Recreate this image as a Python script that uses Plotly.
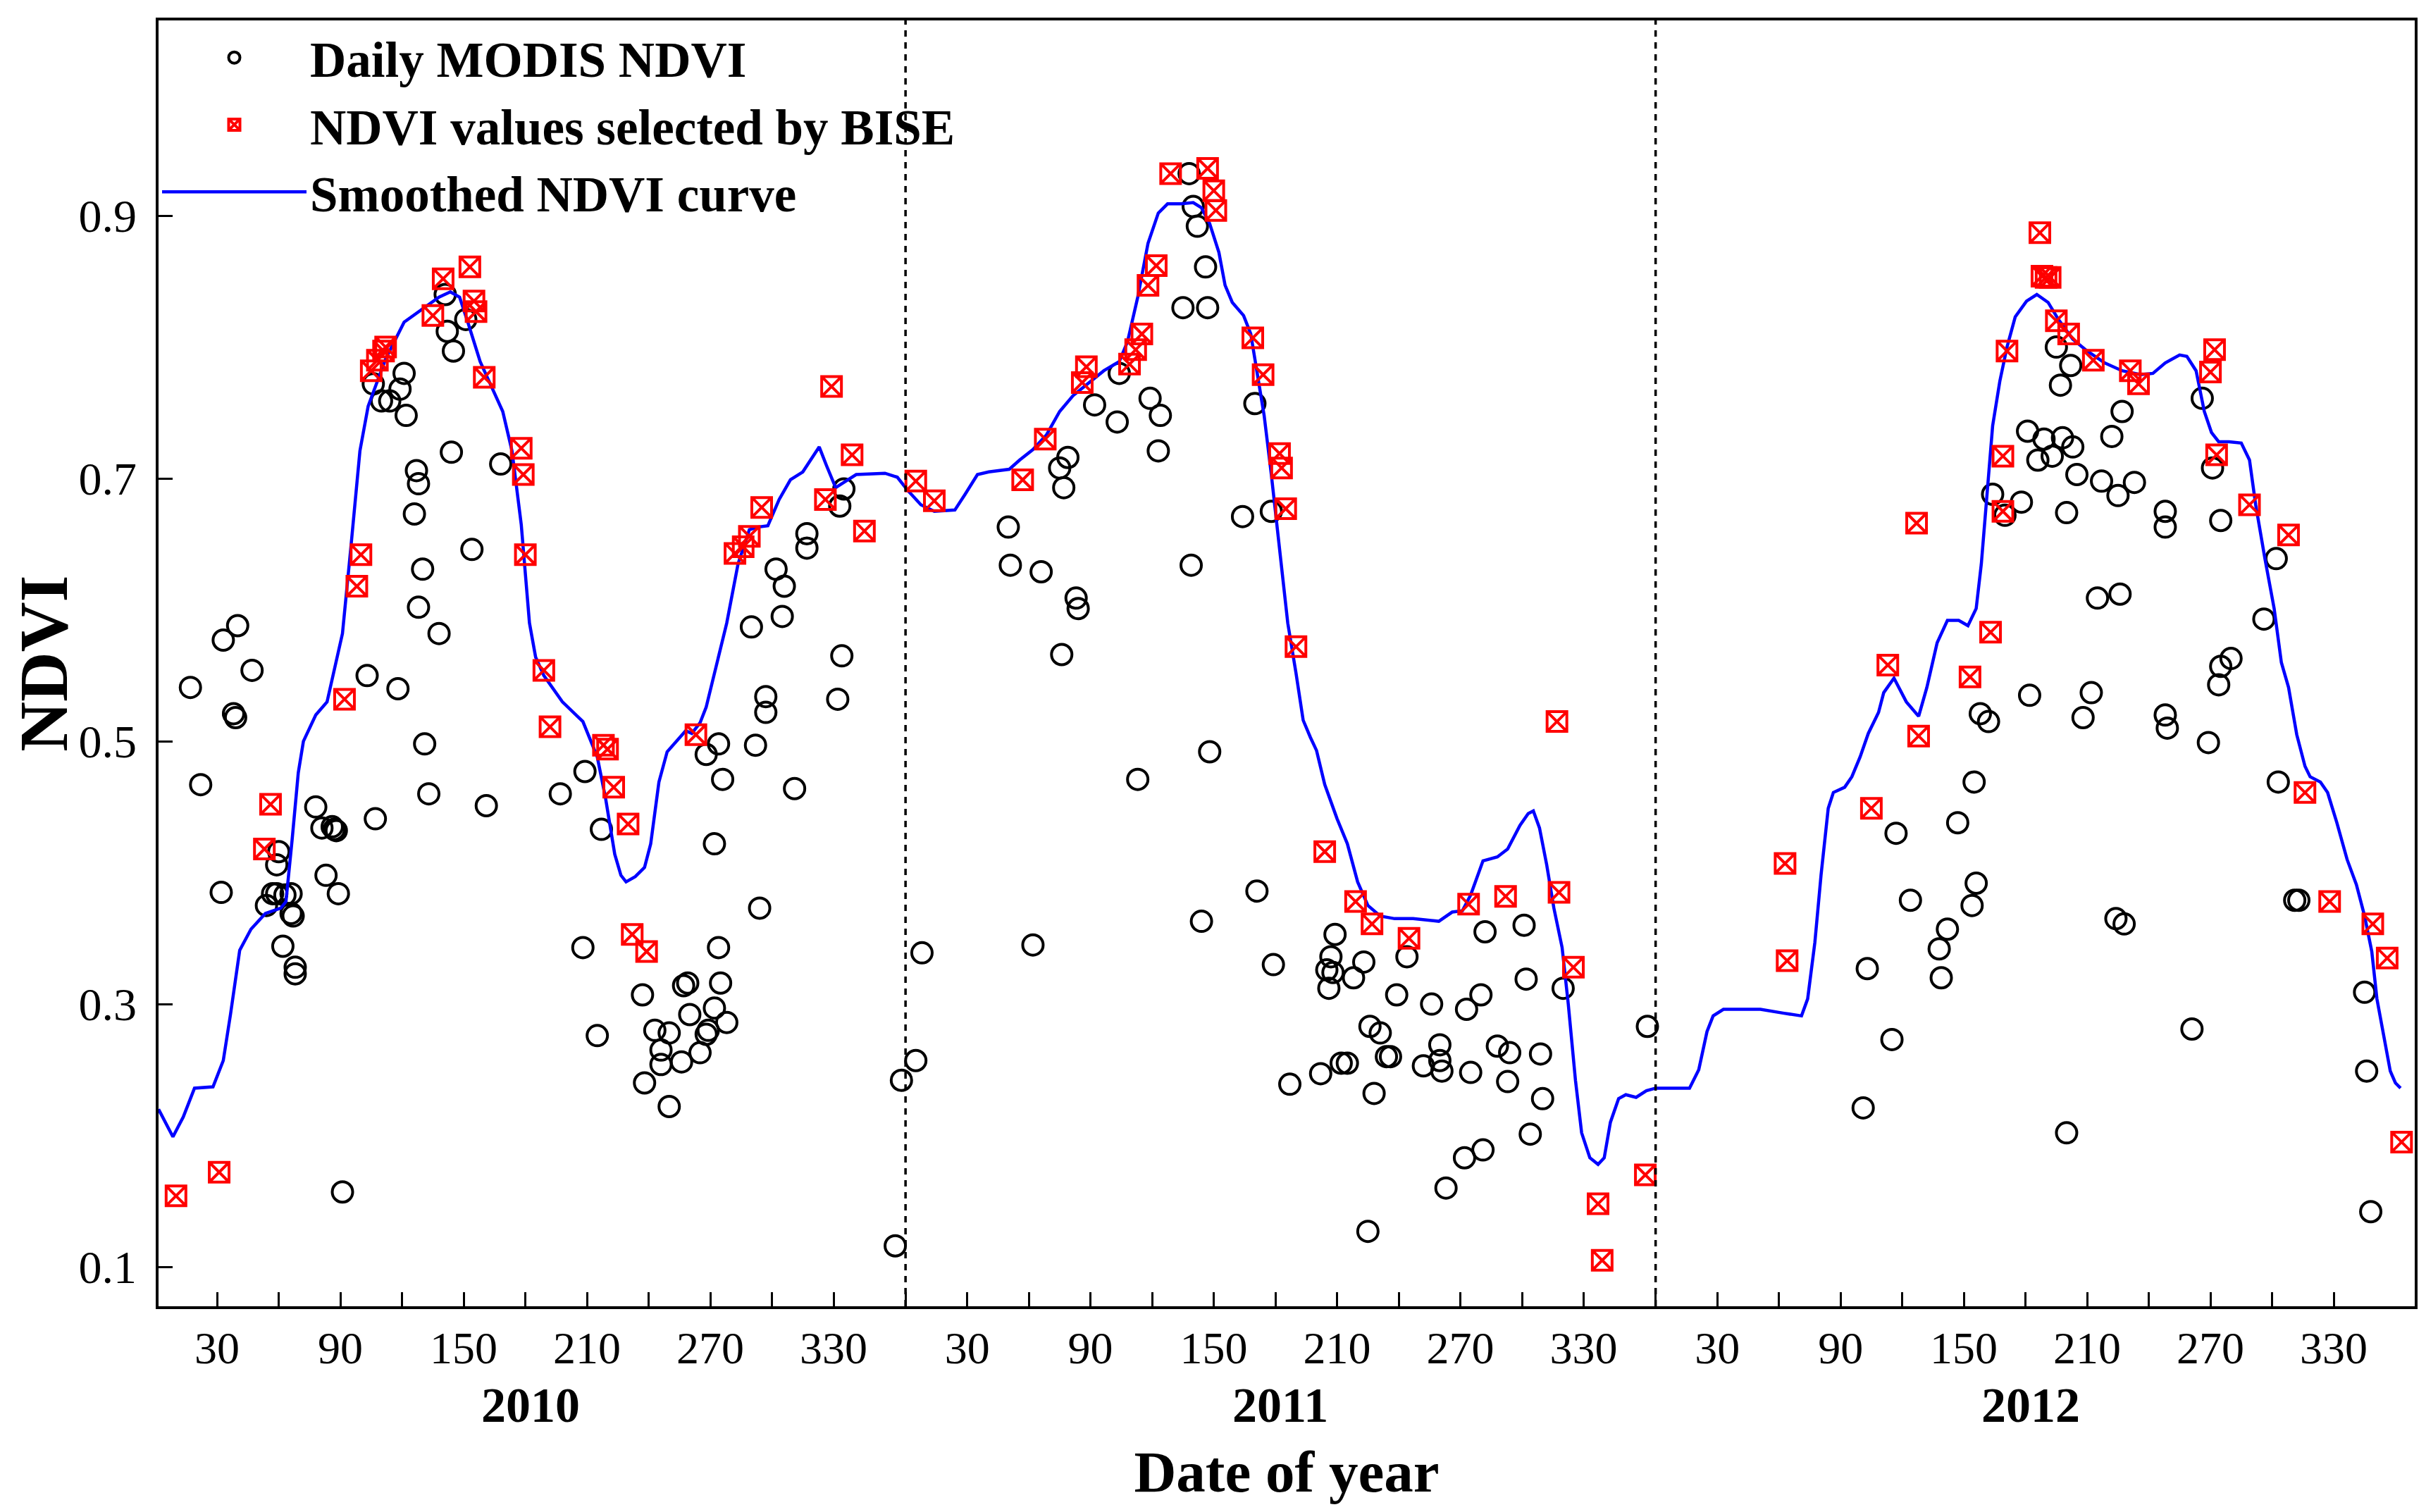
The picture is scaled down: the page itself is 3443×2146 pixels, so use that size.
import plotly.graph_objects as go

# days counted from 1 Jan 2010 (2011 starts at 365, 2012 at 730)
daily_day = [17, 33, 40, 47, 38, 39, 22, 32, 54, 57, 59, 63, 66, 60, 59, 62, 66, 67, 68, 68,
             78, 81, 83, 86, 87, 88, 89, 91, 107, 131, 133, 161, 103, 118,
             106, 110, 114, 119, 121, 122, 127, 128, 126, 130, 128, 138, 144, 145, 142, 141,
             151, 154, 168, 197, 209, 217, 208, 215, 237, 238, 243, 250, 246, 246, 250, 256,
             257, 259, 260, 265, 268, 269, 272, 278, 275, 274, 272, 276, 268, 274, 292, 294,
             297, 297, 290, 302, 306, 305, 317, 317, 334, 332, 333, 335, 311, 360, 363, 370, 373,
             503, 505, 507, 511, 500, 512, 535, 469, 457, 468, 484, 489, 488, 444, 440, 442,
             415, 416, 431, 448, 449, 441, 504, 529, 543, 513, 478,
             427, 509, 536, 544, 552, 567, 574, 572, 570, 573, 571, 583, 588, 577, 580, 591,
             596, 599, 601, 593, 590, 604, 609,
             647, 666, 667, 645, 638, 621, 685, 625, 625, 626, 617, 640, 653, 659, 674, 658,
             675, 669, 646, 637, 628, 726,
             847, 833, 845, 831, 885, 888, 892, 912, 942, 938, 978, 979, 999, 1004, 1005, 1010,
             1026, 1032, 945, 956, 894, 900, 908, 930, 911, 919, 928, 933, 916, 923, 925, 932,
             927, 935, 947, 955, 963, 957, 952, 978, 978, 996, 1001, 1005,
             877, 854, 886, 884, 872, 868, 869, 1033, 930, 954, 958, 991, 1041, 1043, 1075,
             1076, 1078]
daily_ndvi = [0.541, 0.577, 0.588, 0.554, 0.521, 0.518, 0.467, 0.385, 0.375, 0.384, 0.384, 0.383,
              0.384, 0.416, 0.406, 0.344, 0.369, 0.367, 0.328, 0.323,
              0.450, 0.434, 0.398, 0.435, 0.433, 0.432, 0.384, 0.157, 0.441, 0.498, 0.460, 0.451,
              0.550, 0.540,
              0.772, 0.759, 0.759, 0.768, 0.780, 0.748, 0.706, 0.696, 0.673, 0.631, 0.602, 0.582,
              0.720, 0.797, 0.812, 0.840,
              0.821, 0.646, 0.711, 0.460, 0.477, 0.433, 0.343, 0.276, 0.307, 0.240, 0.280, 0.278,
              0.265, 0.254, 0.222, 0.256,
              0.314, 0.316, 0.292, 0.263, 0.277, 0.280, 0.297, 0.286, 0.316, 0.343, 0.422, 0.471,
              0.490, 0.498, 0.497, 0.373,
              0.534, 0.522, 0.587, 0.631, 0.618, 0.595, 0.658, 0.647, 0.565, 0.532, 0.679, 0.692,
              0.464, 0.116, 0.242, 0.257, 0.339,
              0.932, 0.907, 0.892, 0.861, 0.830, 0.830, 0.757, 0.780, 0.756, 0.743, 0.761, 0.748,
              0.721, 0.716, 0.708, 0.693,
              0.663, 0.634, 0.629, 0.609, 0.601, 0.566, 0.634, 0.671, 0.675, 0.492, 0.471,
              0.345, 0.363, 0.386, 0.330, 0.239, 0.247, 0.353, 0.336, 0.326, 0.324, 0.312, 0.320,
              0.332, 0.255, 0.255, 0.283,
              0.278, 0.260, 0.260, 0.232, 0.127, 0.307, 0.336,
              0.355, 0.360, 0.319, 0.307, 0.296, 0.300, 0.312, 0.269, 0.257, 0.249, 0.253, 0.248,
              0.268, 0.263, 0.262, 0.241,
              0.228, 0.201, 0.189, 0.183, 0.160, 0.283,
              0.430, 0.327, 0.273, 0.221, 0.469, 0.521, 0.515, 0.535, 0.537, 0.518, 0.520, 0.510,
              0.499, 0.543, 0.557, 0.563,
              0.593, 0.639, 0.609, 0.612, 0.688, 0.672, 0.682, 0.674, 0.736, 0.730, 0.731, 0.724,
              0.714, 0.717, 0.800, 0.786,
              0.771, 0.703, 0.698, 0.687, 0.697, 0.751, 0.732, 0.675, 0.663, 0.761, 0.708, 0.668,
              0.438, 0.379, 0.392, 0.375, 0.357, 0.342, 0.320, 0.469, 0.202, 0.365, 0.361, 0.281,
              0.379, 0.379, 0.309,
              0.249, 0.142]

bise_day = [10, 31, 56, 53, 92, 100, 98, 105, 108, 111, 112, 135, 140, 153, 155, 156, 160, 178,
            179, 180, 189, 192, 218, 220, 223, 230, 232, 239, 263, 282, 286, 289, 295, 326, 329,
            339, 345,
            370, 379, 422, 433, 453, 451, 474, 477, 480, 483, 487, 494, 512, 515, 516, 534, 539,
            547, 548, 550, 555, 569, 584, 592, 610, 639, 657, 682, 683, 690, 702, 704, 725,
            793, 794, 835, 843, 857, 858, 883, 893, 899, 899, 901, 917, 918, 920, 922, 925, 931,
            943, 961, 965, 1002, 1000, 1003, 1019, 1038, 1046, 1058, 1079, 1086, 1093]
bise_ndvi = [0.154, 0.172, 0.452, 0.418, 0.532, 0.642, 0.618, 0.782, 0.790, 0.797, 0.800, 0.824,
             0.852, 0.861, 0.835, 0.827, 0.777, 0.723, 0.703, 0.642, 0.554, 0.511, 0.497, 0.494,
             0.465, 0.437, 0.353, 0.340, 0.505, 0.643, 0.648, 0.656, 0.678, 0.684, 0.770, 0.718,
             0.660,
             0.698, 0.683, 0.699, 0.730, 0.785, 0.773, 0.787, 0.798, 0.810, 0.847, 0.862, 0.932,
             0.936, 0.919, 0.904, 0.807, 0.779, 0.719, 0.708, 0.677, 0.572, 0.416, 0.378, 0.361,
             0.350, 0.376, 0.382, 0.515, 0.385, 0.328, 0.148, 0.105, 0.170,
             0.407, 0.333, 0.449, 0.558, 0.666, 0.504, 0.549, 0.583, 0.717, 0.675, 0.797, 0.887,
             0.854, 0.853, 0.853, 0.820, 0.810, 0.790, 0.782, 0.772, 0.798, 0.781, 0.718, 0.680,
             0.657, 0.461, 0.378, 0.361, 0.335, 0.195]

smooth_day = [1.5, 8.5, 13.5, 19, 28, 33, 36.5, 41, 46.5, 53.5, 61, 63.5, 66.5, 69.5, 72, 78, 83.5,
              91, 95, 99.5, 103.5, 112, 121, 130, 138, 143.5, 148, 152, 158, 163.5, 169, 173.5,
              178, 182, 185, 189, 198, 208, 212, 215, 219, 223.5, 226.5, 229, 233.5, 238, 241,
              245, 249, 253.5, 258, 261, 265, 268, 272, 278, 283.5, 289, 293, 298, 303.5, 309,
              315, 319, 323, 326.5, 331, 335, 341, 355, 361, 366, 372.5, 379, 389, 394, 400,
              405.5, 415.5, 420.5, 427, 433.5, 440, 446.5, 455, 461.5, 469, 473, 478, 483, 488,
              492.5, 499, 505, 509, 513, 517.5, 520.5, 524, 529.5, 533, 536.5, 539.5, 543, 547,
              551, 555, 558.5, 562, 565, 569, 575, 580, 585, 590, 596, 603, 612, 624.5, 631, 636,
              640, 646, 653, 658, 664, 668, 670.5, 673.5, 677, 680.5, 684.5, 687.5, 691, 694, 698,
              702, 705, 708, 712, 715.5, 720.5, 725.5, 730, 746.5, 751, 755, 758, 763, 781, 792.5,
              801, 804, 807.5, 810.5, 814, 816.5, 822, 825.5, 829.5, 833.5, 838.5, 841, 846, 852,
              858, 862, 867, 872, 877.5, 882, 886, 888.5, 891, 894, 897.5, 901, 905, 910.5, 915.5,
              921, 926, 933, 940, 948.5, 957, 966, 972, 978, 985, 988.5, 993, 997, 1000.5, 1004,
              1009, 1015, 1019, 1022, 1026.5, 1031, 1034.5, 1038, 1042, 1046, 1048.5, 1053.5,
              1057, 1061.5, 1066.5, 1071, 1075, 1078.5, 1081, 1084, 1087.5, 1090, 1092.5]
smooth_ndvi = [0.220, 0.199, 0.214, 0.236, 0.237, 0.257, 0.292, 0.341, 0.357, 0.369, 0.373, 0.378,
               0.425, 0.476, 0.500, 0.520, 0.530, 0.582, 0.646, 0.721, 0.755, 0.791, 0.819, 0.829,
               0.838, 0.842, 0.838, 0.819, 0.789, 0.770, 0.751, 0.721, 0.665, 0.590, 0.564, 0.550,
               0.530, 0.515, 0.500, 0.488, 0.457, 0.414, 0.398, 0.393, 0.397, 0.404, 0.422, 0.469,
               0.492, 0.500, 0.508, 0.506, 0.514, 0.526, 0.552, 0.590, 0.635, 0.661, 0.663, 0.664,
               0.684, 0.699, 0.705, 0.715, 0.724, 0.710, 0.693, 0.697, 0.703, 0.704, 0.701, 0.691,
               0.680, 0.675, 0.676, 0.688, 0.703, 0.705, 0.707, 0.714, 0.722, 0.733, 0.751, 0.763,
               0.774, 0.782, 0.789, 0.804, 0.838, 0.879, 0.902, 0.909, 0.909, 0.910, 0.906, 0.894,
               0.872, 0.847, 0.834, 0.824, 0.810, 0.778, 0.748, 0.703, 0.646, 0.590, 0.552, 0.516,
               0.503, 0.493, 0.467, 0.441, 0.422, 0.393, 0.375, 0.367, 0.365, 0.365, 0.363, 0.370,
               0.371, 0.383, 0.409, 0.412, 0.418, 0.436, 0.445, 0.447, 0.434, 0.406, 0.373, 0.343,
               0.300, 0.242, 0.202, 0.183, 0.178, 0.183, 0.210, 0.228, 0.231, 0.229, 0.234, 0.236,
               0.236, 0.250, 0.279, 0.291, 0.296, 0.296, 0.293, 0.291, 0.304, 0.347, 0.398, 0.449,
               0.461, 0.465, 0.473, 0.488, 0.506, 0.522, 0.537, 0.548, 0.530, 0.519, 0.541, 0.575,
               0.592, 0.592, 0.588, 0.601, 0.635, 0.684, 0.740, 0.774, 0.800, 0.823, 0.835, 0.840,
               0.834, 0.821, 0.806, 0.797, 0.788, 0.782, 0.779, 0.780, 0.788, 0.794, 0.793, 0.782,
               0.751, 0.735, 0.728, 0.728, 0.727, 0.714, 0.680, 0.639, 0.601, 0.560, 0.541, 0.505,
               0.481, 0.473, 0.469, 0.461, 0.438, 0.410, 0.391, 0.367, 0.340, 0.304, 0.277, 0.249,
               0.240, 0.236]

years = ["2010", "2011", "2012"]
year_start = [0, 365, 730]
doy_ticks = [30, 60, 90, 120, 150, 180, 210, 240, 270, 300, 330]
doy_labeled = [30, 90, 150, 210, 270, 330]

FONT = "Liberation Serif"

tickvals, ticktext = [], []
for s in year_start:
    for d in doy_ticks:
        tickvals.append(s + d)
        ticktext.append(str(d) if d in doy_labeled else "")
tickvals += [365, 730]
ticktext += ["", ""]

fig = go.Figure()

fig.add_trace(go.Scatter(x=daily_day, y=daily_ndvi, mode='markers', name='<b>Daily MODIS NDVI</b>',
                         marker=dict(symbol='circle-open', size=29, color='black',
                                     line=dict(width=4, color='black')),
                         legendrank=1))
fig.add_trace(go.Scatter(x=smooth_day, y=smooth_ndvi, mode='lines', name='<b>Smoothed NDVI curve</b>',
                         line=dict(color='#0000ff', width=4.5), legendrank=3))
fig.add_trace(go.Scatter(x=bise_day, y=bise_ndvi, mode='markers',
                         name='<b>NDVI values selected by BISE</b>',
                         marker=dict(symbol='square-x-open', size=28, color='#ff0000',
                                     line=dict(width=4, color='#ff0000')),
                         legendrank=2))

# year boundaries
for b in year_start[1:]:
    fig.add_shape(type='line', x0=b, x1=b, y0=0, y1=1, xref='x', yref='paper',
                  line=dict(color='black', width=3.5, dash='9px,8px'))

# year labels under the tick labels
for s, yr in zip(year_start, years):
    fig.add_annotation(x=s + 182.5, y=0, xref='x', yref='paper', yshift=-140,
                       text='<b>' + yr + '</b>', showarrow=False, yanchor='middle',
                       font=dict(family=FONT, size=70, color='black'))

fig.update_xaxes(range=[1.5, 1099.4], tickvals=tickvals, ticktext=ticktext,
                 ticks='inside', ticklen=20, tickwidth=3, tickcolor='black',
                 showline=True, linewidth=3.5, linecolor='black', mirror=True,
                 showgrid=False, zeroline=False, automargin=False,
                 tickfont=dict(family=FONT, size=64, color='black'),
                 title=dict(text='<b>Date of year</b>', standoff=112,
                            font=dict(family=FONT, size=83, color='black')))
fig.update_yaxes(range=[0.07, 1.0486], tickvals=[0.1, 0.3, 0.5, 0.7, 0.9],
                 ticktext=['0.1', '0.3', '0.5', '0.7', '0.9'],
                 ticks='inside', ticklen=20, tickwidth=3, tickcolor='black',
                 showline=True, linewidth=3.5, linecolor='black', mirror=True,
                 showgrid=False, zeroline=False, ticklabelstandoff=14, automargin=False,
                 tickfont=dict(family=FONT, size=66, color='black'),
                 title=dict(text='<b>NDVI</b>', standoff=34,
                            font=dict(family=FONT, size=98, color='black')))

fig.update_layout(
    width=3443, height=2146,
    margin=dict(l=217, r=24, t=21, b=300),
    plot_bgcolor='white', paper_bgcolor='white',
    showlegend=True,
    legend=dict(x=0.0, y=1.0, xanchor='left', yanchor='top', bgcolor='rgba(0,0,0,0)',
                itemwidth=205, tracegroupgap=0,
                font=dict(family=FONT, size=71, color='black'),
                itemsizing='trace'),
)

fig.write_html("out.html")
